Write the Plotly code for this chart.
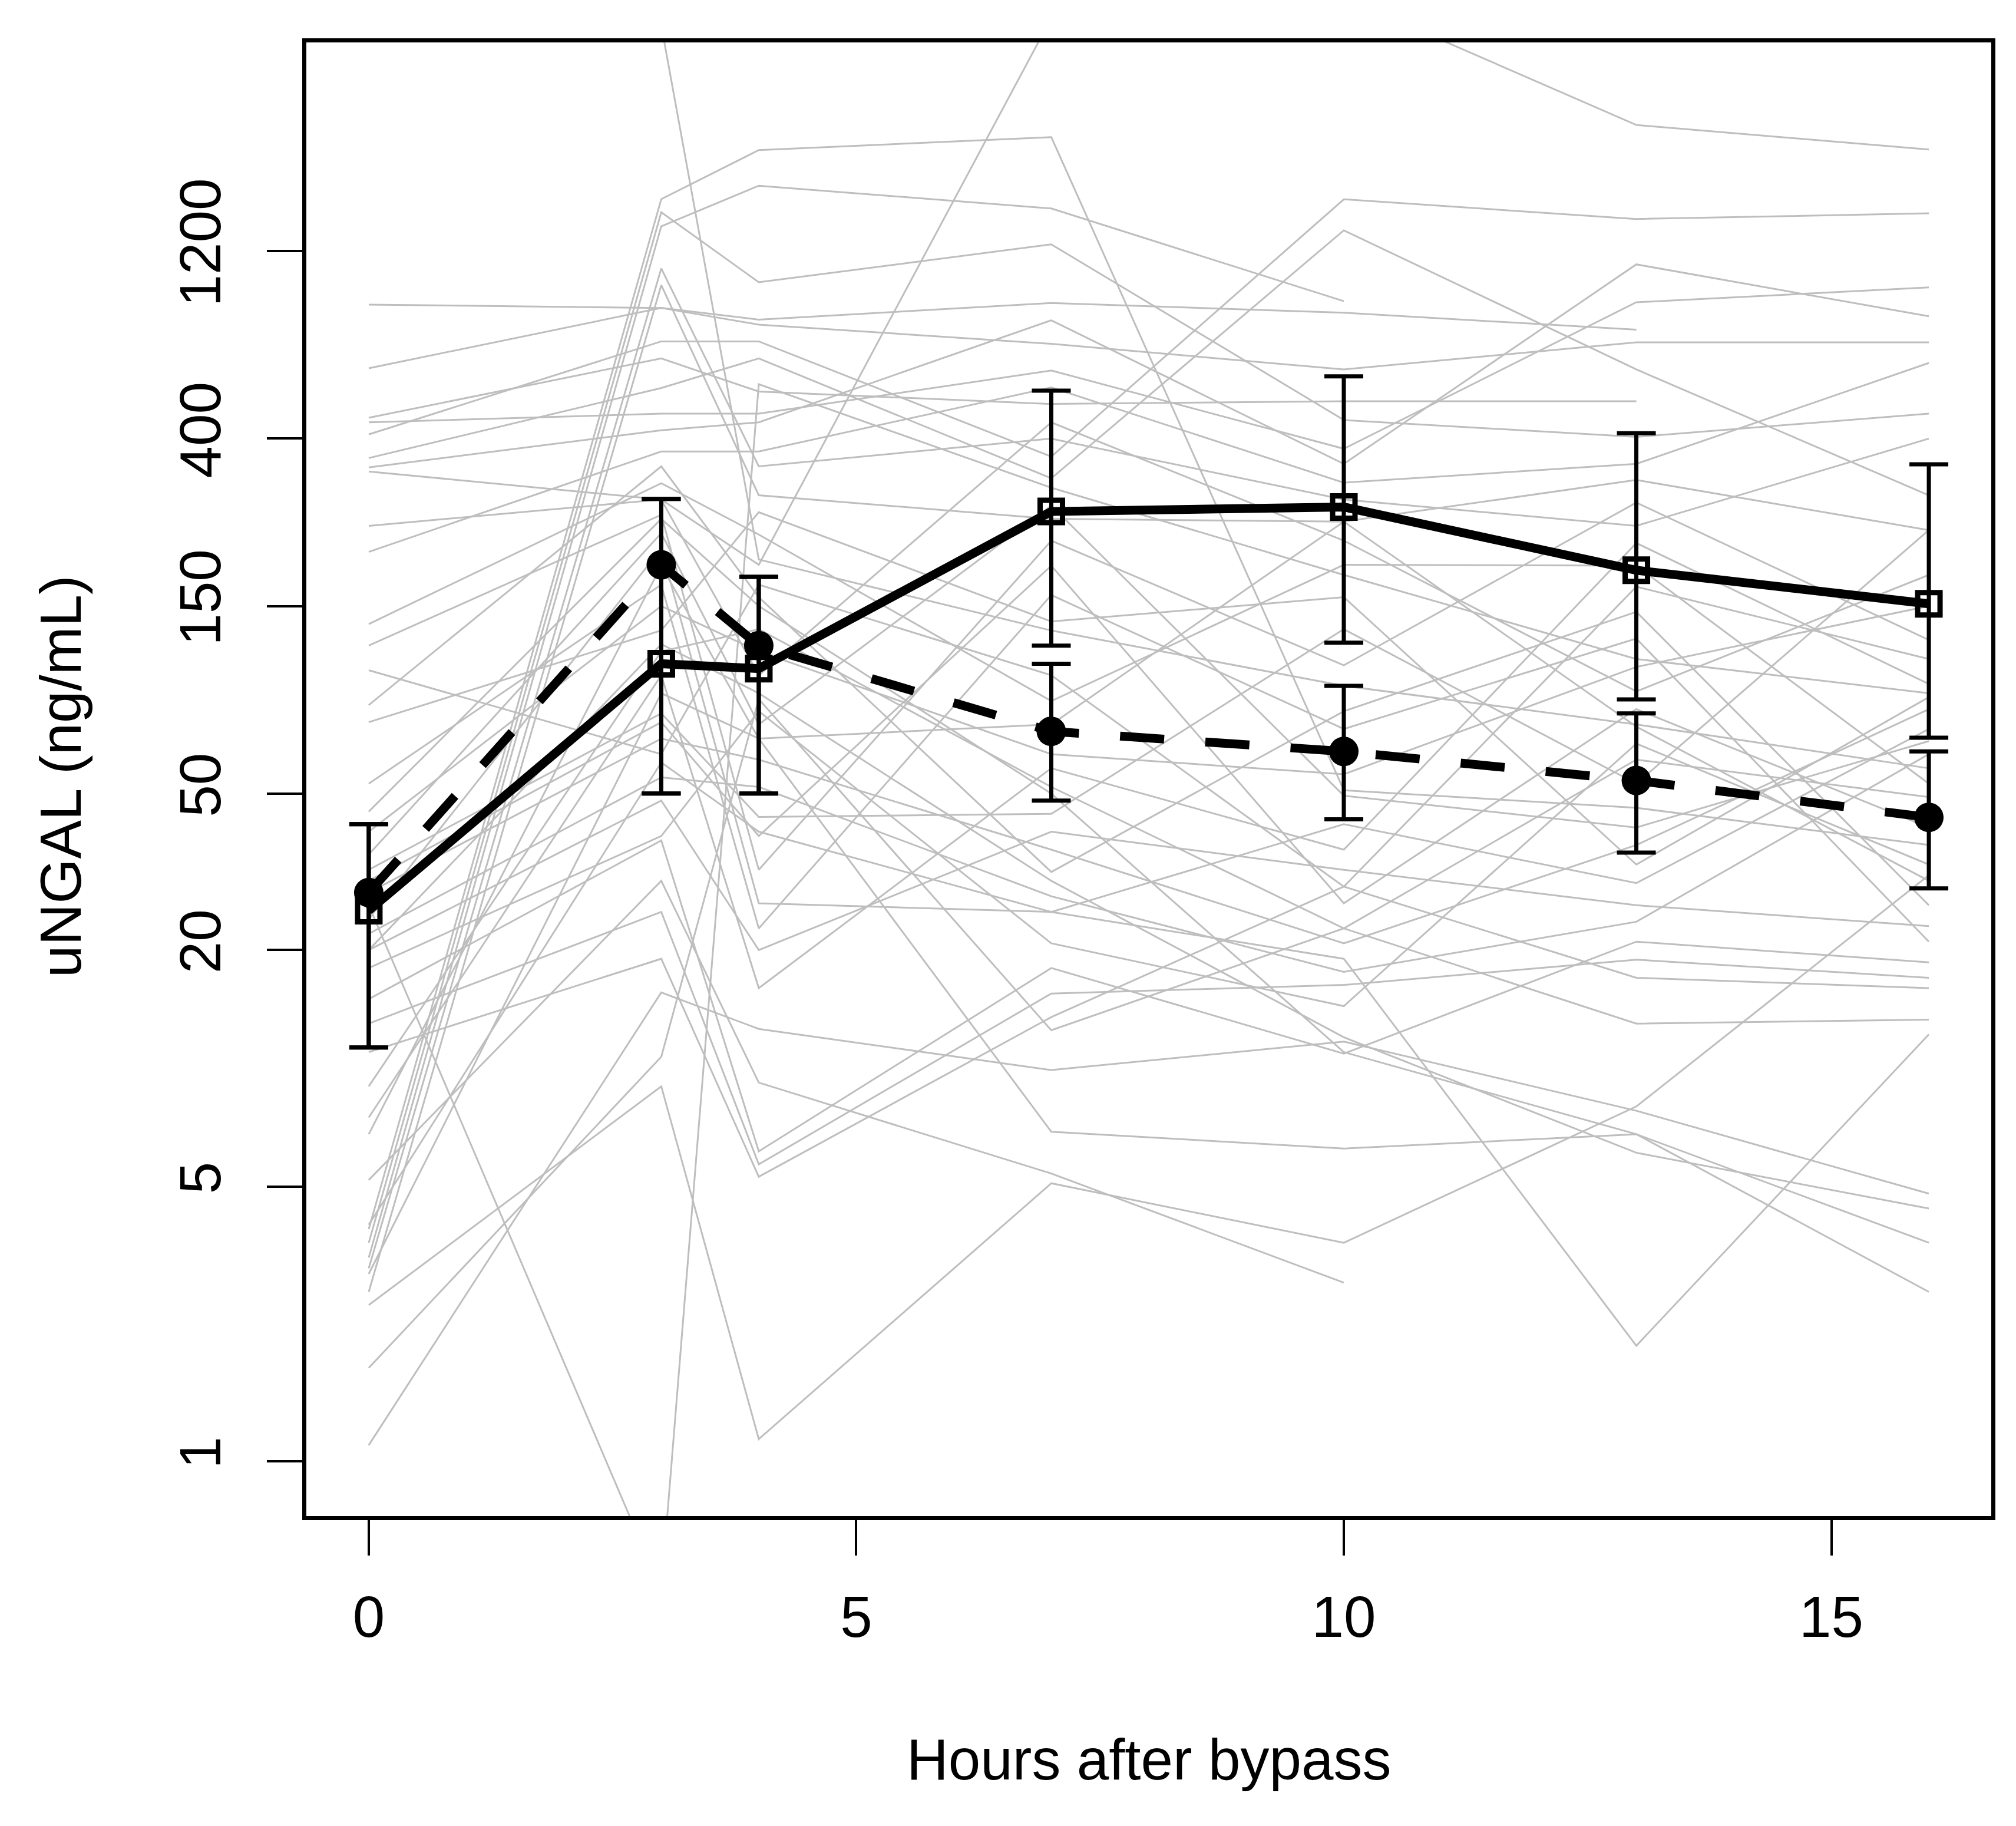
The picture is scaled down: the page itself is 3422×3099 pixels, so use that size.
import plotly.graph_objects as go

# ---- data ----
hours = [0, 3, 4, 7, 10, 13, 16]

# individual patient uNGAL values (ng/mL), one list per time point (None = missing)
pt_h0 = [330, None, 26, 1.1, 2.5, 4.0, 5.2, 604, 452, 410, 357, 877, 3.9, 3.3, 3.6, 440, 338, 206, 3.1, 2.7,
         240, 135, 119, 103, 84, 76, 53, 40, 35, 6.8, 7.5, 9.0, 32, 30, 28, 24, 22, 20, 18, 15, 13, 11, 1.73, 3.0, 20, 45]
pt_h3 = [280, 4500, 0.47, 15.6, 9.0, 60, 30, 860, 640, 707, 538, 860, 1627, 1387, 1506, 463, 420, 371, 1084, 983,
         280, 308, 256, 63, 340, 130, 170, 150, 230, 190, 100, 115, 80, 76, 69, 210, 55, 48, 39, 38, 25, 19, 10.7, 90, 120, 250]
pt_h4 = [191, 197, 550, 12.6, 1.14, 40, 9.2, 803, 527, 707, 640, 780, 2168, 1760, 1000, 463, 440, 371, 340, 287,
         100, 228, 32, 170, 158, 260, 22.7, 115, 75, 69, 16, 131, 43.6, 39, 61, 26.3, 52, 20, 81, 6.15, 5.7, 5.3, 87, 69, 90, 150]
pt_h7 = [4700, 130, 300, 9.9, 5.1, 25, 5.4, 885, 490, 360, 317, 697, 2339, 1540, 1248, 596, 800, 540, 400, 250,
         440, 86, 220, 100, 31.6, 137, 160, 63, 270, 75, 58, 52, 44.4, 190, 36, 25, 27.4, 40, 20.8, 18, 15.5, 13.5, 12.5, 6.9, 30, 50]
pt_h10 = [5300, 94, 180, 11.7, 3.6, 19, 2.85, 836, 498, 1625, 1355, 600, 51, 895, 446, 377, 345, 309, 280, 246,
          220, 191, 106, 29, 81, 158, 73, 56, 49.4, 246, 36, 22.7, 131, 26.3, 20.8, 41.8, 17.6, 32, 14.4, 10.9, 16.3, 29, 22.7, 6.25, 12, 11]
pt_h13 = [2512, 75, 110, 7.8, 8.0, 1.97, None, 757, 498, 1448, 600, 703, 46, None, 404, 889, 1110, 345, 240, 314,
          91, 190, 275, 168, 145, 33, 124, 105, 41, 74, 217, 61, 53, 82, 37, 29.6, 23.6, 26, 67, 21, 18.9, 17, 13, 6.8, 6.1, 6.8]
pt_h16 = [2175, 58, 90, 4.8, 31, 12.2, None, None, None, 1497, 287, 703, 37, None, 463, 970, 819, 623, 400, 234,
          180, 53, 123, 110, 26, 88, 21, 150, 68, 30, 95, 49, 234, 41, 82, 73, 63, 23, 33, 18.6, 17, 16, 13.3, 3.6, 4.4, 2.7]

# group summaries (solid line, open squares)
grp_a_mid = [25.2, 107, 104, 261, 268, 185, 152]
grp_a_hi = [41.8, 281, 178, 530, 576, 413, 344]
grp_a_lo = [11.3, 50, 50, 119, 121, 86.8, 69.4]
# group summaries (dashed line, filled circles)
grp_b_mid = [28, 191, 119, 72, 64, 54, 43.5]
grp_b_hi = [41.8, 281, 178, 107, 94, 80, 64]
grp_b_lo = [11.3, 50, 50, 48, 43, 35.4, 28.7]

y_tickvals = [1, 5, 20, 50, 150, 400, 1200]
y_ticktext = ["1", "5", "20", "50", "150", "400", "1200"]
x_tickvals = [0, 5, 10, 15]

FONT = "Liberation Sans, Arial, sans-serif"

fig = go.Figure()

cols = [pt_h0, pt_h3, pt_h4, pt_h7, pt_h10, pt_h13, pt_h16]
for i in range(len(pt_h0)):
    ys = [c[i] for c in cols]
    fig.add_trace(go.Scatter(x=hours, y=ys, mode="lines",
                             line=dict(color="#BEBEBE", width=3),
                             connectgaps=False, hoverinfo="skip"))

def add_group(mid, hi, lo, dash, symbol, msize, mline):
    fig.add_trace(go.Scatter(
        x=hours, y=mid, mode="lines+markers",
        line=dict(color="black", width=15, dash=dash),
        marker=dict(symbol=symbol, size=msize, color="black",
                    line=dict(color="black", width=mline)),
        error_y=dict(type="data", symmetric=False,
                     array=[h - m for h, m in zip(hi, mid)],
                     arrayminus=[m - l for m, l in zip(mid, lo)],
                     color="black", thickness=7, width=33),
    ))

add_group(grp_b_mid, grp_b_hi, grp_b_lo, "75px,70px", "circle", 50, 0)
add_group(grp_a_mid, grp_a_hi, grp_a_lo, "solid", "square-open", 38, 9)

axis_common = dict(showline=True, linecolor="black", linewidth=7, mirror=True,
                   ticks="outside", ticklen=60, tickwidth=3.5, tickcolor="black",
                   showgrid=False, zeroline=False,
                   tickfont=dict(family=FONT, size=98, color="black"))

fig.update_xaxes(range=[-0.64, 16.64], tickvals=x_tickvals, ticklabelstandoff=20, **axis_common)
fig.update_yaxes(type="log", range=[-0.139, 3.610], tickvals=y_tickvals, ticktext=y_ticktext,
                 tickangle=-90, ticklabelstandoff=40, **axis_common)

fig.update_layout(
    width=3414, height=3091, autosize=False,
    margin=dict(l=512, r=42, t=64, b=526, pad=0),
    plot_bgcolor="white", paper_bgcolor="white",
    showlegend=False,
    font=dict(family=FONT, color="black"),
    annotations=[
        dict(text="Hours after bypass", xref="paper", yref="paper", x=0.5, y=-0.165,
             xanchor="center", yanchor="middle", showarrow=False,
             font=dict(family=FONT, size=98, color="black")),
        dict(text="uNGAL (ng/mL)", xref="paper", yref="paper", x=-0.1458, y=0.5018,
             xanchor="center", yanchor="middle", showarrow=False, textangle=-90,
             font=dict(family=FONT, size=98, color="black")),
    ],
)

fig.write_html("out.html")
